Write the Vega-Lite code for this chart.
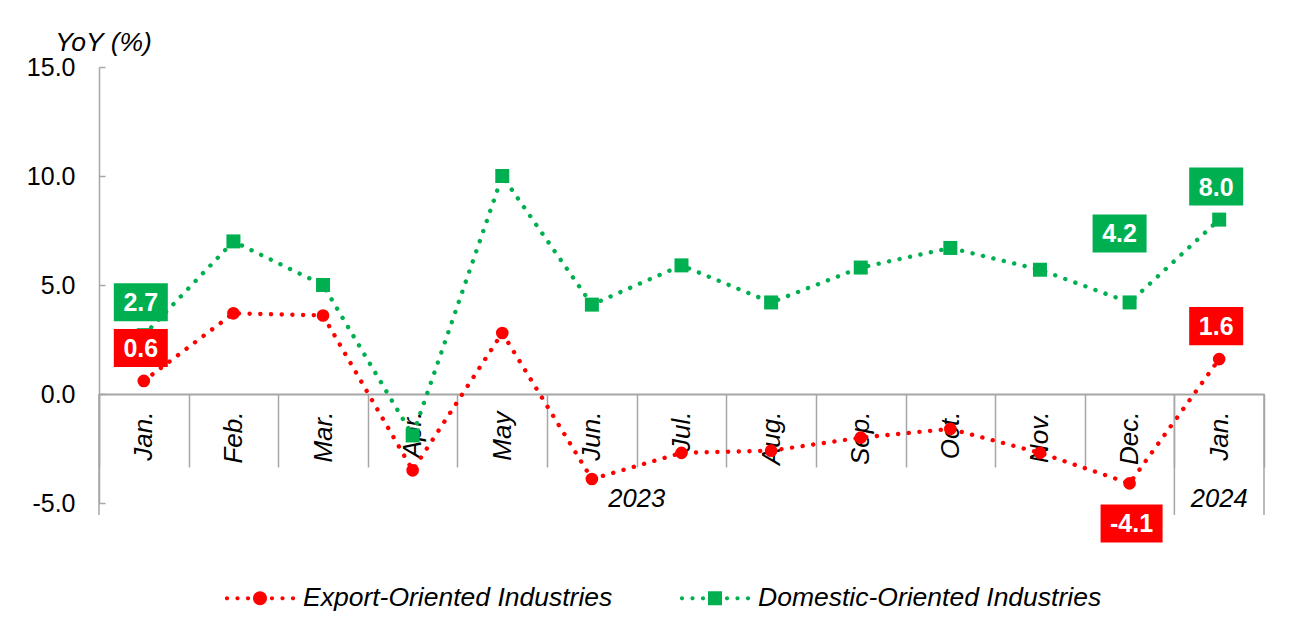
{
  "$schema": "https://vega.github.io/schema/vega-lite/v6.json",
  "width": 1165,
  "height": 436,
  "autosize": {"type": "none"},
  "padding": {"left": 99, "top": 67, "right": 42, "bottom": 125},
  "background": "white",
  "config": {
    "font": "Liberation Sans",
    "view": {"stroke": null},
    "locale": {"number": {"decimal": ".", "thousands": ",", "grouping": [3], "currency": ["$", ""], "minus": "-"}}
  },
  "datasets": {
    "yoy": [
      {"m": "Jan.|2023", "series": "Export-Oriented Industries", "v": 0.6},
      {"m": "Feb.|2023", "series": "Export-Oriented Industries", "v": 3.7},
      {"m": "Mar.|2023", "series": "Export-Oriented Industries", "v": 3.6},
      {"m": "Apr.|2023", "series": "Export-Oriented Industries", "v": -3.5},
      {"m": "May|2023", "series": "Export-Oriented Industries", "v": 2.8},
      {"m": "Jun.|2023", "series": "Export-Oriented Industries", "v": -3.9},
      {"m": "Jul.|2023", "series": "Export-Oriented Industries", "v": -2.7},
      {"m": "Aug.|2023", "series": "Export-Oriented Industries", "v": -2.6},
      {"m": "Sep.|2023", "series": "Export-Oriented Industries", "v": -2.0},
      {"m": "Oct.|2023", "series": "Export-Oriented Industries", "v": -1.6},
      {"m": "Nov.|2023", "series": "Export-Oriented Industries", "v": -2.7},
      {"m": "Dec.|2023", "series": "Export-Oriented Industries", "v": -4.1},
      {"m": "Jan.|2024", "series": "Export-Oriented Industries", "v": 1.6},
      {"m": "Jan.|2023", "series": "Domestic-Oriented Industries", "v": 2.7},
      {"m": "Feb.|2023", "series": "Domestic-Oriented Industries", "v": 7.0},
      {"m": "Mar.|2023", "series": "Domestic-Oriented Industries", "v": 5.0},
      {"m": "Apr.|2023", "series": "Domestic-Oriented Industries", "v": -1.9},
      {"m": "May|2023", "series": "Domestic-Oriented Industries", "v": 10.0},
      {"m": "Jun.|2023", "series": "Domestic-Oriented Industries", "v": 4.1},
      {"m": "Jul.|2023", "series": "Domestic-Oriented Industries", "v": 5.9},
      {"m": "Aug.|2023", "series": "Domestic-Oriented Industries", "v": 4.2},
      {"m": "Sep.|2023", "series": "Domestic-Oriented Industries", "v": 5.8},
      {"m": "Oct.|2023", "series": "Domestic-Oriented Industries", "v": 6.7},
      {"m": "Nov.|2023", "series": "Domestic-Oriented Industries", "v": 5.7},
      {"m": "Dec.|2023", "series": "Domestic-Oriented Industries", "v": 4.2},
      {"m": "Jan.|2024", "series": "Domestic-Oriented Industries", "v": 8.0}
    ]
  },
  "data": {"name": "yoy"},
  "encoding": {
    "x": {
      "field": "m", "type": "nominal", "sort": null,
      "scale": {"domain": ["Jan.|2023","Feb.|2023","Mar.|2023","Apr.|2023","May|2023","Jun.|2023","Jul.|2023","Aug.|2023","Sep.|2023","Oct.|2023","Nov.|2023","Dec.|2023","Jan.|2024"], "paddingInner": 0, "paddingOuter": 0},
      "axis": {
        "title": null, "orient": "bottom", "offset": -109,
        "labelExpr": "isString(datum.value) ? split(datum.value, '|')[0] : ''",
        "labelAngle": 270, "labelAlign": "right", "labelBaseline": "middle",
        "labelFontSize": 26, "labelFontStyle": "italic", "labelColor": "black",
        "labelPadding": -56,
        "tickBand": "extent", "tickSize": 73, "tickColor": "#a6a6a6", "tickWidth": 1.5,
        "domainColor": "#a6a6a6", "domainWidth": 2, "grid": false
      }
    }
  },
  "layer": [
    {
      "mark": {"type": "line", "strokeDash": [0.1, 10.6], "strokeCap": "round", "strokeWidth": 4.4},
      "encoding": {
        "y": {
          "field": "v", "type": "quantitative",
          "scale": {"domain": [-5, 15], "nice": false, "zero": false},
          "axis": {
            "values": [-5, 0, 5, 10, 15], "format": ".1f", "grid": false,
            "labelFontSize": 25, "labelColor": "black", "labelPadding": 30,
            "tickSize": -6, "tickColor": "#a6a6a6", "tickWidth": 1.5,
            "domainColor": "#a6a6a6", "domainWidth": 1.5,
            "title": "YoY (%)", "titleAngle": 0, "titleFontSize": 26.5, "titleFontStyle": "italic",
            "titleFontWeight": "normal", "titleColor": "black", "titleAlign": "center",
            "titleBaseline": "middle", "titleX": 4, "titleY": -25
          }
        },
        "detail": {"field": "series"},
        "color": {"condition": {"test": "datum.series === 'Export-Oriented Industries'", "value": "#FF0000"}, "value": "#00B050"}
      }
    },
    {
      "data": {"values": [{"m": "Jan.|2023"}, {"m": "Jan.|2024"}]},
      "mark": {"type": "rule", "color": "#a6a6a6", "strokeWidth": 1.5},
      "encoding": {
        "x": {"field": "m", "bandPosition": 0},
        "y": {"datum": 0, "type": "quantitative", "scale": {"domain": [-5, 15], "nice": false, "zero": false}},
        "y2": {"datum": -5.55}
      }
    },
    {
      "data": {"values": [{"m": "Jan.|2024"}]},
      "mark": {"type": "rule", "color": "#a6a6a6", "strokeWidth": 1.5},
      "encoding": {
        "x": {"field": "m", "bandPosition": 1},
        "y": {"datum": 0, "type": "quantitative", "scale": {"domain": [-5, 15], "nice": false, "zero": false}},
        "y2": {"datum": -5.55}
      }
    },
    {
      "data": {"values": [{"year": "2023", "m": "Jun.|2023"}]},
      "mark": {"type": "text", "fontSize": 25.5, "fontStyle": "italic", "color": "black", "baseline": "middle"},
      "encoding": {
        "x": {"field": "m", "bandPosition": 1},
        "y": {"datum": -4.83, "type": "quantitative", "scale": {"domain": [-5, 15], "nice": false, "zero": false}},
        "text": {"field": "year"}
      }
    },
    {
      "data": {"values": [{"year": "2024", "m": "Jan.|2024"}]},
      "mark": {"type": "text", "fontSize": 25.5, "fontStyle": "italic", "color": "black", "baseline": "middle"},
      "encoding": {
        "x": {"field": "m", "bandPosition": 0.5},
        "y": {"datum": -4.83, "type": "quantitative", "scale": {"domain": [-5, 15], "nice": false, "zero": false}},
        "text": {"field": "year"}
      }
    },
    {
      "mark": {"type": "point", "filled": true, "opacity": 1},
      "encoding": {
        "y": {"field": "v", "type": "quantitative", "scale": {"domain": [-5, 15], "nice": false, "zero": false}},
        "color": {"condition": {"test": "datum.series === 'Export-Oriented Industries'", "value": "#FF0000"}, "value": "#00B050"},
        "shape": {"condition": {"test": "datum.series === 'Export-Oriented Industries'", "value": "circle"}, "value": "square"},
        "size": {"condition": {"test": "datum.series === 'Export-Oriented Industries'", "value": 160}, "value": 196}
      }
    },
    {
      "transform": [{"filter": "false"}],
      "mark": {"type": "point", "filled": true, "opacity": 1},
      "encoding": {
        "y": {"field": "v", "type": "quantitative", "scale": {"domain": [-5, 15], "nice": false, "zero": false}},
        "color": {
          "field": "series", "type": "nominal",
          "scale": {"domain": ["Export-Oriented Industries", "Domestic-Oriented Industries"], "range": ["#FF0000", "#00B050"]},
          "legend": {
            "title": null, "orient": "none", "legendX": 126, "legendY": 496,
            "direction": "horizontal", "symbolSize": 4900, "labelFontSize": 26.5,
            "labelFontStyle": "italic", "labelColor": "black", "labelOffset": 8,
            "columnPadding": 66, "padding": 0, "symbolOpacity": 1, "symbolStrokeWidth": 0,
            "labelLimit": 600
          }
        },
        "shape": {
          "field": "series", "type": "nominal",
          "scale": {
            "domain": ["Export-Oriented Industries", "Domestic-Oriented Industries"],
            "range": [
              "M-0.2,0A0.2,0.2,0,1,0,0.2,0A0.2,0.2,0,1,0,-0.2,0ZM-1.003,0A0.06,0.06,0,1,0,-0.883,0A0.06,0.06,0,1,0,-1.003,0ZM-0.703,0A0.06,0.06,0,1,0,-0.583,0A0.06,0.06,0,1,0,-0.703,0ZM-0.403,0A0.06,0.06,0,1,0,-0.283,0A0.06,0.06,0,1,0,-0.403,0ZM0.283,0A0.06,0.06,0,1,0,0.403,0A0.06,0.06,0,1,0,0.283,0ZM0.583,0A0.06,0.06,0,1,0,0.703,0A0.06,0.06,0,1,0,0.583,0ZM0.883,0A0.06,0.06,0,1,0,1.003,0A0.06,0.06,0,1,0,0.883,0Z",
              "M-0.2,-0.2H0.2V0.2H-0.2ZM-1.003,0A0.06,0.06,0,1,0,-0.883,0A0.06,0.06,0,1,0,-1.003,0ZM-0.703,0A0.06,0.06,0,1,0,-0.583,0A0.06,0.06,0,1,0,-0.703,0ZM-0.403,0A0.06,0.06,0,1,0,-0.283,0A0.06,0.06,0,1,0,-0.403,0ZM0.283,0A0.06,0.06,0,1,0,0.403,0A0.06,0.06,0,1,0,0.283,0ZM0.583,0A0.06,0.06,0,1,0,0.703,0A0.06,0.06,0,1,0,0.583,0ZM0.883,0A0.06,0.06,0,1,0,1.003,0A0.06,0.06,0,1,0,0.883,0Z"
            ]
          }
        }
      }
    },
    {
      "transform": [{"filter": "datum.m === 'Jan.|2023' || datum.m === 'Jan.|2024'"}],
      "encoding": {
        "y": {"field": "v", "type": "quantitative", "scale": {"domain": [-5, 15], "nice": false, "zero": false}}
      },
      "layer": [
        {
          "mark": {"type": "point", "filled": true, "opacity": 1, "shape": "M-1,-0.704H1V0.704H-1Z", "size": 2916, "xOffset": -3, "yOffset": -33},
          "encoding": {
            "color": {"condition": {"test": "datum.series === 'Export-Oriented Industries'", "value": "#FF0000"}, "value": "#00B050"}
          }
        },
        {
          "mark": {"type": "text", "color": "white", "fontWeight": "bold", "fontSize": 25, "baseline": "middle", "xOffset": -3, "yOffset": -32},
          "encoding": {
            "text": {"field": "v", "type": "quantitative", "format": ".1f"}
          }
        }
      ]
    },
    {
      "transform": [{"filter": "datum.m === 'Dec.|2023' && datum.series === 'Domestic-Oriented Industries'"}],
      "encoding": {
        "y": {"field": "v", "type": "quantitative", "scale": {"domain": [-5, 15], "nice": false, "zero": false}}
      },
      "layer": [
        {
          "mark": {"type": "point", "filled": true, "opacity": 1, "shape": "M-1,-0.704H1V0.704H-1Z", "size": 2916, "xOffset": -10, "yOffset": -69, "color": "#00B050"},
          "encoding": {}
        },
        {
          "mark": {"type": "text", "color": "white", "fontWeight": "bold", "fontSize": 25, "baseline": "middle", "xOffset": -10, "yOffset": -68},
          "encoding": {
            "text": {"field": "v", "type": "quantitative", "format": ".1f"}
          }
        }
      ]
    },
    {
      "transform": [{"filter": "datum.m === 'Dec.|2023' && datum.series === 'Export-Oriented Industries'"}],
      "encoding": {
        "y": {"field": "v", "type": "quantitative", "scale": {"domain": [-5, 15], "nice": false, "zero": false}}
      },
      "layer": [
        {
          "mark": {"type": "point", "filled": true, "opacity": 1, "shape": "M-1,-0.613H1V0.613H-1Z", "size": 3844, "xOffset": 2, "yOffset": 40, "color": "#FF0000"},
          "encoding": {}
        },
        {
          "mark": {"type": "text", "color": "white", "fontWeight": "bold", "fontSize": 25, "baseline": "middle", "xOffset": 2, "yOffset": 41},
          "encoding": {
            "text": {"field": "v", "type": "quantitative", "format": ".1f"}
          }
        }
      ]
    }
  ]
}
